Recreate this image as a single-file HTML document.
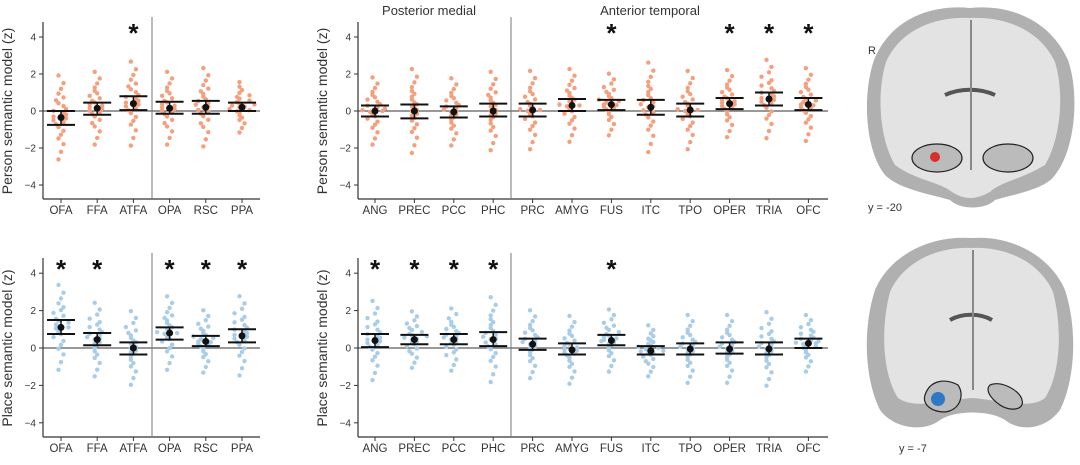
<!DOCTYPE html>
<html><head><meta charset="utf-8">
<style>
body{margin:0;background:#fff;width:1080px;height:460px;overflow:hidden;font-family:"Liberation Sans",sans-serif}
svg text{font-family:"Liberation Sans",sans-serif;fill:#333}
</style></head>
<body>
<svg id="c" width="1080" height="460" viewBox="0 0 1080 460">
<text x="429" y="15" text-anchor="middle" font-size="13">Posterior medial</text>
<text x="650" y="15" text-anchor="middle" font-size="13">Anterior temporal</text>
<g>
<path d="M970,8 C1010,4 1050,20 1068,60 C1080,95 1075,150 1055,175 C1045,190 1010,195 995,200 C985,210 960,210 950,200 C935,195 900,190 885,175 C865,150 862,95 874,60 C890,20 930,4 970,8Z" fill="#b0b0b0"/>
<path d="M970,18 C1005,16 1040,30 1055,62 C1065,95 1060,140 1045,165 C1020,180 1000,182 990,192 C975,200 965,200 952,192 C940,182 915,180 895,165 C880,140 876,95 886,62 C900,30 935,16 970,18Z" fill="#e3e3e3"/>
<path d="M945,95 C960,88 980,88 995,95" stroke="#555" stroke-width="4" fill="none"/>
<line x1="971" y1="20" x2="971" y2="170" stroke="#888" stroke-width="2"/>
<ellipse cx="937" cy="158" rx="25" ry="14" fill="#bbb" stroke="#222" stroke-width="1.2"/>
<ellipse cx="1008" cy="158" rx="25" ry="14" fill="#bbb" stroke="#222" stroke-width="1.2"/>
<circle cx="935" cy="157" r="5" fill="#d8302a"/>
<text x="868" y="54" font-size="11">R</text>
<text x="868" y="211" font-size="11">y = -20</text>
</g>
<g>
<path d="M972,238 C1010,235 1050,255 1065,290 C1078,330 1075,380 1060,410 C1045,430 1020,432 1005,420 C990,410 955,410 940,420 C925,432 895,430 880,410 C865,380 862,330 875,290 C890,255 930,235 972,238Z" fill="#b0b0b0"/>
<path d="M972,248 C1005,246 1040,262 1053,292 C1063,330 1060,375 1045,398 C1030,410 1000,400 972,398 C945,400 915,410 898,398 C883,375 880,330 890,292 C903,262 938,246 972,248Z" fill="#e3e3e3"/>
<path d="M950,320 C962,313 980,313 992,320" stroke="#555" stroke-width="4" fill="none"/>
<line x1="973" y1="250" x2="973" y2="390" stroke="#888" stroke-width="2"/>
<path d="M925,395 C930,380 945,378 958,385 C965,395 960,410 945,412 C932,412 922,405 925,395Z" fill="#bbb" stroke="#222" stroke-width="1.2"/>
<path d="M990,385 C1000,380 1020,390 1022,400 C1025,410 1010,412 1000,405 C990,398 985,390 990,385Z" fill="#bbb" stroke="#222" stroke-width="1.2"/>
<circle cx="938" cy="399" r="7" fill="#2f78c4"/>
<text x="899" y="452" font-size="11">y = -7</text>
</g>
</svg>
<script>
const ns="http://www.w3.org/2000/svg";
const svg=document.getElementById('c');
const catsL=["OFA","FFA","ATFA","OPA","RSC","PPA"];
const catsM=["ANG","PREC","PCC","PHC","PRC","AMYG","FUS","ITC","TPO","OPER","TRIA","OFC"];
const meanPersonL=[-0.35,0.15,0.4,0.15,0.2,0.2];
const loPersonL=[-0.75,-0.2,0.05,-0.15,-0.15,0.0];
const hiPersonL=[0.0,0.45,0.8,0.5,0.55,0.45];
const sigPersonL=[0,0,1,0,0,0];
const meanPlaceL=[1.1,0.45,0.0,0.8,0.35,0.65];
const loPlaceL=[0.75,0.15,-0.35,0.45,0.1,0.3];
const hiPlaceL=[1.5,0.8,0.3,1.1,0.65,1.0];
const sigPlaceL=[1,1,0,1,1,1];
const meanPersonM=[0,0,-0.05,0,0.05,0.3,0.35,0.2,0.05,0.4,0.65,0.35];
const loPersonM=[-0.3,-0.4,-0.35,-0.3,-0.3,0,0.05,-0.2,-0.3,0.1,0.3,0.05];
const hiPersonM=[0.3,0.35,0.25,0.4,0.4,0.65,0.6,0.6,0.4,0.7,1.0,0.7];
const sigPersonM=[0,0,0,0,0,0,1,0,0,1,1,1];
const meanPlaceM=[0.4,0.45,0.45,0.45,0.2,-0.1,0.4,-0.15,-0.05,-0.05,-0.05,0.25];
const loPlaceM=[0.05,0.2,0.2,0.1,-0.1,-0.35,0.15,-0.35,-0.35,-0.3,-0.35,0];
const hiPlaceM=[0.75,0.7,0.75,0.85,0.5,0.25,0.7,0.1,0.25,0.3,0.3,0.5];
const sigPlaceM=[1,1,1,1,0,0,1,0,0,0,0,0];
const spread=[-2.2,-1.8,-1.4,-1.1,-0.9,-0.7,-0.5,-0.35,-0.25,-0.15,-0.05,0,0.05,0.15,0.25,0.35,0.45,0.6,0.75,0.9,1.05,1.25,1.5,1.8,2.2];

function el(t,a,p){const e=document.createElementNS(ns,t);for(const k in a)e.setAttribute(k,a[k]);(p||svg).appendChild(e);return e;}

function panel(o){
  const g=el('g',{});
  
  
  const y=v=>o.zero-v*o.k;
  const x=i=>o.x0+i*o.step;
  const ya=el('line',{x1:o.ax,x2:o.ax,y1:o.top,y2:o.bot,stroke:'#333','stroke-width':1.2},g);
  
  const xa=el('line',{x1:o.ax,x2:o.axEnd,y1:o.bot,y2:o.bot,stroke:'#333','stroke-width':1.2},g);
  
  el('line',{x1:o.ax,x2:o.axEnd,y1:y(0),y2:y(0),stroke:'#333','stroke-width':1},g);
  el('line',{x1:o.div,x2:o.div,y1:o.top-5,y2:o.bot,stroke:'#777','stroke-width':1},g);
  [4,2,0,-2,-4].forEach(t=>{
    el('line',{x1:o.ax-4,x2:o.ax,y1:y(t),y2:y(t),stroke:'#333'},g);
    const tx=el('text',{x:o.ax-7,y:y(t)+3.5,'text-anchor':'end','font-size':10},g);
    tx.textContent=t<0?'\u2212'+(-t):t;
    
  });
  const yl=el('text',{transform:`translate(${o.ax-31},${y(0)}) rotate(-90)`,'text-anchor':'middle','font-size':14},g);
  yl.textContent=o.ylabel;
  
  o.cats.forEach((c,i)=>{
    const cx=x(i);
    el('line',{x1:cx,x2:cx,y1:o.bot,y2:o.bot+4,stroke:'#333'},g);
    const t=el('text',{x:cx,y:o.bot+15,'text-anchor':'middle','font-size':11.5},g);
    t.textContent=c;
    
    const sd=(o.hi[i]-o.lo[i])*2.5;
    const bins={};
    spread.forEach((s,j)=>{
      const v=o.mean[i]+s*sd*0.55;
      const b=Math.round(v/0.25);
      bins[b]=(bins[b]||0)+1;
      const n=bins[b];
      const off=(n%2?1:-1)*Math.floor(n/2)*5+((j%3)-1)*2.5;
      const d=el('circle',{cx:cx+off,cy:y(v),r:2.2,fill:o.color},g);
      
    });
    const w=14;
    ['lo','hi'].forEach(k=>el('line',{x1:cx-w,x2:cx+w,y1:y(o[k][i]),y2:y(o[k][i]),stroke:'#111','stroke-width':2},g));
    el('line',{x1:cx,x2:cx,y1:y(o.lo[i]),y2:y(o.hi[i]),stroke:'#111','stroke-width':1.5},g);
    const m=el('circle',{cx:cx,cy:y(o.mean[i]),r:3.5,fill:'#111'},g);
    
    if(o.sig[i]){
      const s=el('text',{x:cx,y:o.top+20,'text-anchor':'middle','font-size':26,'font-weight':'bold'},g);
      s.textContent='*';s.style.fill='#111';
      
    }
  });
}
const pc='#f4a07f', lc='#a9cde8';
panel({name:'person-roi-panel',cats:catsL,mean:meanPersonL,lo:loPersonL,hi:hiPersonL,sig:sigPersonL,color:pc,zero:111,k:18.5,top:22,bot:199,ax:43,axEnd:260,x0:61,step:36.2,div:152,ylabel:'Person semantic model (z)'});
panel({name:'place-roi-panel',cats:catsL,mean:meanPlaceL,lo:loPlaceL,hi:hiPlaceL,sig:sigPlaceL,color:lc,zero:348,k:18.7,top:258,bot:437,ax:43,axEnd:260,x0:61,step:36.2,div:152,ylabel:'Place semantic model (z)'});
panel({name:'person-network-panel',cats:catsM,mean:meanPersonM,lo:loPersonM,hi:hiPersonM,sig:sigPersonM,color:pc,zero:111,k:18.5,top:22,bot:199,ax:358,axEnd:828,x0:375,step:39.4,div:511,ylabel:'Person semantic model (z)'});
panel({name:'place-network-panel',cats:catsM,mean:meanPlaceM,lo:loPlaceM,hi:hiPlaceM,sig:sigPlaceM,color:lc,zero:348,k:18.7,top:258,bot:437,ax:358,axEnd:828,x0:375,step:39.4,div:511,ylabel:'Place semantic model (z)'});
</script>
</body></html>
